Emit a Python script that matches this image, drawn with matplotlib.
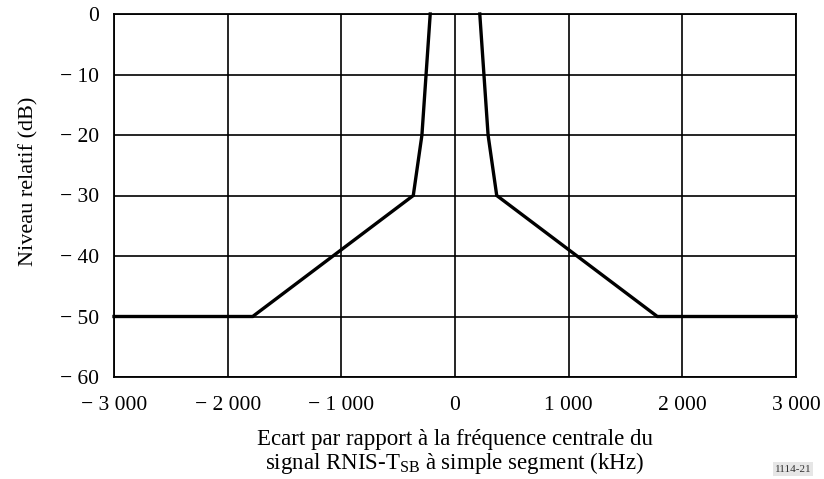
import matplotlib
matplotlib.use("Agg")
import matplotlib.pyplot as plt

plt.rcParams['font.family'] = ['Liberation Serif', 'DejaVu Serif']
plt.rcParams['mathtext.fontset'] = 'custom'
plt.rcParams['mathtext.rm'] = 'Liberation Serif'
plt.rcParams['mathtext.it'] = 'Liberation Serif:italic'

# Data: mask (kHz offset vs relative level dB)
freq_khz = [-3000, -1780, -367, -291, -218, 218, 291, 367, 1780, 3000]
level_db = [-50, -50, -30, -20, 0, 0, -20, -30, -50, -50]

x_ticks = [-3000, -2000, -1000, 0, 1000, 2000, 3000]
x_labels = ["\u2212 3 000", "\u2212 2 000", "\u2212 1 000", "0", "1 000", "2 000", "3 000"]
y_ticks = [0, -10, -20, -30, -40, -50, -60]
y_labels = ["0", "\u2212 10", "\u2212 20", "\u2212 30", "\u2212 40", "\u2212 50", "\u2212 60"]

fig = plt.figure(figsize=(8.24, 4.79), dpi=100)
ax = fig.add_axes([114/824, 1-377/479, (796-114)/824, (377-14)/479])

ax.set_xlim(-3000, 3000)
ax.set_ylim(-60, 0)
ax.set_xticks(x_ticks)
ax.set_xticklabels(x_labels)
ax.set_yticks(y_ticks)
ax.set_yticklabels(y_labels)
ax.tick_params(length=0, labelsize=15.5)
ax.tick_params(axis='x', pad=13.5)
ax.tick_params(axis='y', pad=11)
ax.grid(True, color='black', linewidth=1.2)
ax.set_axisbelow(True)
for s in ax.spines.values():
    s.set_linewidth(1.3)
    s.set_color('black')

ax.plot(freq_khz[:5], level_db[:5], color='black', linewidth=2.4, clip_on=False,
        solid_joinstyle='miter')
ax.plot(freq_khz[5:], level_db[5:], color='black', linewidth=2.4, clip_on=False,
        solid_joinstyle='miter')

ax.set_ylabel("Niveau relatif (dB)", fontsize=16)
ax.yaxis.set_label_coords(-(114-38)/682, (377-181)/363)
ax.set_xlabel("Ecart par rapport à la fréquence centrale du\nsignal RNIS-T$_{\\mathrm{SB}}$ à simple segment (kHz)",
              fontsize=16.5, linespacing=1.0, va='center')
ax.xaxis.set_label_coords(0.5, -(452-377)/363)

fig.text(793/824, 1-469/479, "1114-21", fontsize=8, ha='center', va='center', color='#333333',
         bbox=dict(facecolor='#e6e6e6', edgecolor='none', pad=1.5))

fig.savefig("out.png", dpi=100)
